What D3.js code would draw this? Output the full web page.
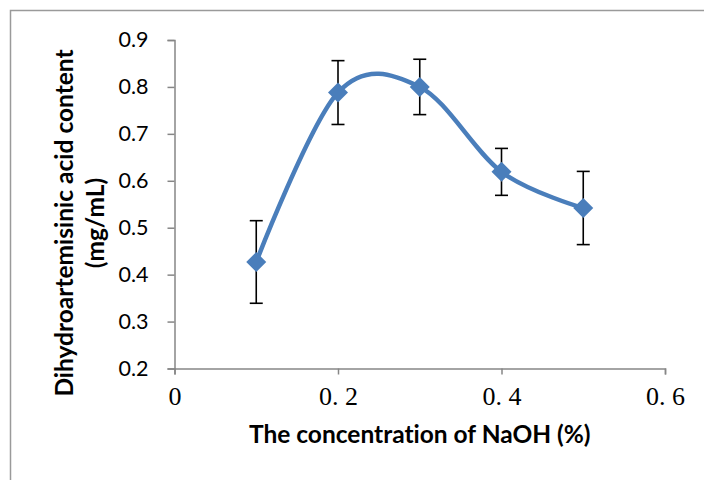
<!DOCTYPE html>
<html>
<head>
<meta charset="utf-8">
<script src="https://cdn.jsdelivr.net/npm/d3@7"></script>
<style>
  body { margin: 0; background: #fff; }
  svg { display: block; }
  text { font-variant-ligatures: none; }
</style>
</head>
<body>
<div id="chart"></div>
<script>
// NaOH concentration (%) and measured content (mg/mL)
const concentrations = [0.1, 0.2, 0.3, 0.4, 0.5];
const contents = [0.427, 0.788, 0.800, 0.619, 0.542];
const errors = [0.088, 0.068, 0.059, 0.050, 0.078];

const xTicks = [0, 0.2, 0.4, 0.6];
const yTicks = [0.2, 0.3, 0.4, 0.5, 0.6, 0.7, 0.8, 0.9];

const points = concentrations.map((c, i) => ({ x: c, y: contents[i], err: errors[i] }));

// Set up dimensions
const width = 704;
const height = 480;
const margin = { top: 40, right: 39, bottom: 111.5, left: 174.5 };

const svg = d3
  .select('#chart')
  .append('svg')
  .attr('width', width)
  .attr('height', height);

// Chart frame (runs off the right and bottom edges)
svg
  .append('rect')
  .attr('x', 10.5)
  .attr('y', 10.5)
  .attr('width', 740)
  .attr('height', 520)
  .attr('fill', 'none')
  .attr('stroke', '#9a9a9a')
  .attr('stroke-width', 1.5);

// Scales
const xScale = d3.scaleLinear().domain([0, 0.6]).range([margin.left, width - margin.right]);
const yScale = d3.scaleLinear().domain([0.2, 0.9]).range([height - margin.bottom, margin.top]);

const axisColor = '#868686';

// Y axis
const yAxis = svg
  .append('g')
  .attr('transform', `translate(${margin.left},0)`)
  .call(d3.axisLeft(yScale).tickValues(yTicks).tickSize(7).tickPadding(19).tickFormat(d3.format('.1f')));

yAxis.select('.domain').attr('stroke', axisColor).attr('stroke-width', 1.5);
yAxis.selectAll('.tick line').attr('stroke', axisColor).attr('stroke-width', 1.5);
yAxis
  .selectAll('.tick text')
  .attr('fill', '#000')
  .attr('font-family', 'Lato, sans-serif')
  .attr('font-size', 21.5);

// X axis
const xAxis = svg
  .append('g')
  .attr('transform', `translate(0,${yScale(0.2)})`)
  .call(
    d3
      .axisBottom(xScale)
      .tickValues(xTicks)
      .tickSize(6)
      .tickPadding(12)
      .tickFormat((d) => (d === 0 ? '0' : d3.format('.1f')(d).replace('.', '. ')))
  );

xAxis.select('.domain').attr('stroke', axisColor).attr('stroke-width', 1.5);
xAxis.selectAll('.tick line').attr('stroke', axisColor).attr('stroke-width', 1.5);
xAxis
  .selectAll('.tick text')
  .attr('fill', '#000')
  .attr('font-family', '"Liberation Serif", serif')
  .attr('font-size', 26)
  .style('white-space', 'pre');

// Axis titles
svg
  .append('text')
  .attr('x', (xScale(0) + xScale(0.6)) / 2)
  .attr('y', 443)
  .attr('text-anchor', 'middle')
  .attr('font-family', 'Lato, sans-serif')
  .attr('font-weight', 'bold')
  .attr('font-size', 24.5)
  .text('The concentration of NaOH (%)');

const yTitle = svg
  .append('text')
  .attr('transform', 'translate(73,223) rotate(-90)')
  .attr('text-anchor', 'middle')
  .attr('font-family', 'Lato, sans-serif')
  .attr('font-weight', 'bold')
  .attr('font-size', 24.5);

yTitle.append('tspan').attr('x', 0).attr('y', 0).text('Dihydroartemisinic acid content');
yTitle.append('tspan').attr('x', 0).attr('y', 31).text('(mg/mL)');

// Smoothed line
const line = d3
  .line()
  .x((d) => xScale(d.x))
  .y((d) => yScale(d.y))
  .curve(d3.curveCardinal.tension(0));

svg
  .append('path')
  .datum(points)
  .attr('d', line)
  .attr('fill', 'none')
  .attr('stroke', '#4a7ebb')
  .attr('stroke-width', 4.5)
  .attr('stroke-linecap', 'round');

// Error bars
const bars = svg.append('g').attr('stroke', '#000').attr('stroke-width', 1.6);

bars
  .selectAll('.err')
  .data(points)
  .enter()
  .append('line')
  .attr('x1', (d) => xScale(d.x))
  .attr('x2', (d) => xScale(d.x))
  .attr('y1', (d) => yScale(d.y - d.err))
  .attr('y2', (d) => yScale(d.y + d.err));

['top', 'bottom'].forEach((side) => {
  bars
    .selectAll(`.cap-${side}`)
    .data(points)
    .enter()
    .append('line')
    .attr('x1', (d) => xScale(d.x) - 6.5)
    .attr('x2', (d) => xScale(d.x) + 6.5)
    .attr('y1', (d) => yScale(side === 'top' ? d.y + d.err : d.y - d.err))
    .attr('y2', (d) => yScale(side === 'top' ? d.y + d.err : d.y - d.err));
});

// Diamond markers
svg
  .selectAll('.marker')
  .data(points)
  .enter()
  .append('path')
  .attr('class', 'marker')
  .attr('d', d3.symbol().type(d3.symbolSquare).size(200))
  .attr('transform', (d) => `translate(${xScale(d.x)},${yScale(d.y)}) rotate(45)`)
  .attr('fill', '#4a7ebb');
</script>
</body>
</html>
